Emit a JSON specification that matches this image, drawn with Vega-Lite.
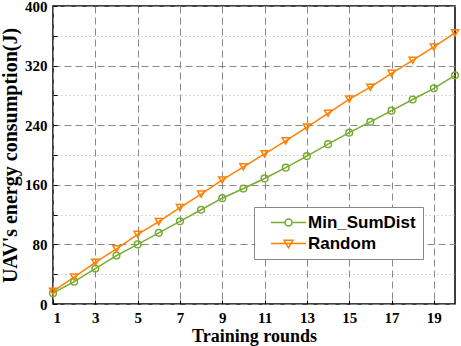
{
  "$schema": "https://vega.github.io/schema/vega-lite/v6.json",
  "width": 402,
  "height": 298,
  "autosize": {"type": "none"},
  "padding": {"left": 53, "top": 6, "right": 6, "bottom": 42},
  "background": "white",
  "config": {
    "view": {"stroke": "black", "strokeWidth": 1.5},
    "axis": {
      "labelFont": "Liberation Serif",
      "labelFontWeight": "bold",
      "labelFontSize": 15,
      "labelColor": "black",
      "titleFont": "Liberation Serif",
      "titleFontWeight": "bold",
      "titleColor": "black",
      "domain": false,
      "tickColor": "black",
      "tickSize": -4,
      "gridColor": "#888888",
      "gridOpacity": 1,
      "gridWidth": 1
    }
  },
  "data": {
    "values": [
      {"round": 1, "energy": 14.5, "method": "Min_SumDist"},
      {"round": 2, "energy": 30, "method": "Min_SumDist"},
      {"round": 3, "energy": 47.5, "method": "Min_SumDist"},
      {"round": 4, "energy": 65, "method": "Min_SumDist"},
      {"round": 5, "energy": 80, "method": "Min_SumDist"},
      {"round": 6, "energy": 95.5, "method": "Min_SumDist"},
      {"round": 7, "energy": 111, "method": "Min_SumDist"},
      {"round": 8, "energy": 126.5, "method": "Min_SumDist"},
      {"round": 9, "energy": 142, "method": "Min_SumDist"},
      {"round": 10, "energy": 155, "method": "Min_SumDist"},
      {"round": 11, "energy": 168.5, "method": "Min_SumDist"},
      {"round": 12, "energy": 183, "method": "Min_SumDist"},
      {"round": 13, "energy": 198.5, "method": "Min_SumDist"},
      {"round": 14, "energy": 214.5, "method": "Min_SumDist"},
      {"round": 15, "energy": 230, "method": "Min_SumDist"},
      {"round": 16, "energy": 244.5, "method": "Min_SumDist"},
      {"round": 17, "energy": 259.5, "method": "Min_SumDist"},
      {"round": 18, "energy": 274.5, "method": "Min_SumDist"},
      {"round": 19, "energy": 289.5, "method": "Min_SumDist"},
      {"round": 20, "energy": 307, "method": "Min_SumDist"},
      {"round": 1, "energy": 17, "method": "Random"},
      {"round": 2, "energy": 36, "method": "Random"},
      {"round": 3, "energy": 56, "method": "Random"},
      {"round": 4, "energy": 74, "method": "Random"},
      {"round": 5, "energy": 93.5, "method": "Random"},
      {"round": 6, "energy": 110.5, "method": "Random"},
      {"round": 7, "energy": 129.5, "method": "Random"},
      {"round": 8, "energy": 147.5, "method": "Random"},
      {"round": 9, "energy": 166.5, "method": "Random"},
      {"round": 10, "energy": 184, "method": "Random"},
      {"round": 11, "energy": 201.5, "method": "Random"},
      {"round": 12, "energy": 219, "method": "Random"},
      {"round": 13, "energy": 237.5, "method": "Random"},
      {"round": 14, "energy": 256, "method": "Random"},
      {"round": 15, "energy": 275, "method": "Random"},
      {"round": 16, "energy": 291, "method": "Random"},
      {"round": 17, "energy": 309.5, "method": "Random"},
      {"round": 18, "energy": 327, "method": "Random"},
      {"round": 19, "energy": 345, "method": "Random"},
      {"round": 20, "energy": 364, "method": "Random"}
    ]
  },
  "encoding": {
    "x": {
      "field": "round",
      "type": "quantitative",
      "scale": {"domain": [1, 20], "nice": false, "zero": false},
      "axis": {
        "title": "Training rounds",
        "titleFontSize": 18,
        "titlePadding": 2,
        "values": [1, 3, 5, 7, 9, 11, 13, 15, 17, 19],
        "labelPadding": 10,
        "gridDash": [7, 4]
      }
    },
    "y": {
      "field": "energy",
      "type": "quantitative",
      "scale": {"domain": [0, 400], "nice": false},
      "axis": {
        "title": "UAV's energy consumption(J)",
        "titleFontSize": 20,
        "titlePadding": 4,
        "values": [0, 40, 80, 120, 160, 200, 240, 280, 320, 360, 400],
        "labelExpr": "datum.value % 80 === 0 ? datum.label : ''",
        "labelPadding": 10,
        "gridDash": {"condition": {"test": "datum.value % 80 !== 0", "value": [1, 3]}, "value": [7, 4]},
        "gridColor": {"condition": {"test": "datum.value % 80 !== 0", "value": "#aaaaaa"}, "value": "#888888"}
      }
    },
    "color": {
      "field": "method",
      "type": "nominal",
      "scale": {"domain": ["Min_SumDist", "Random"], "range": ["#77AC30", "#FF8000"]},
      "legend": {
        "title": null,
        "orient": "none",
        "legendX": 201,
        "legendY": 201,
        "fillColor": "white",
        "strokeColor": "#888888",
        "padding": 7,
        "labelFont": "Liberation Sans",
        "labelFontWeight": "bold",
        "labelFontSize": 17,
        "labelColor": "black",
        "symbolOffset": 19,
        "labelOffset": 11,
        "rowPadding": 3,
        "symbolSize": 196,
        "symbolStrokeWidth": 1.5,
        "symbolFillColor": "transparent",
        "encode": {
          "symbols": {
            "update": {
              "shape": {"signal": "datum.value === 'Random' ? 'M-2.5,0L2.5,0M-0.64,-0.45L0.64,-0.45L0,0.6Z' : 'M-2.5,0L-0.5,0M0.5,0L2.5,0M0.5,0A0.5,0.5,0,1,1,-0.5,0A0.5,0.5,0,1,1,0.5,0'"},
              "size": {"value": 196},
              "fill": {"value": "transparent"}
            }
          }
        }
      }
    }
  },
  "layer": [
    {"mark": {"type": "line", "strokeWidth": 1.5}},
    {
      "transform": [{"filter": "datum.method === 'Min_SumDist'"}],
      "mark": {"type": "point", "shape": "circle", "filled": false, "strokeWidth": 1.5, "size": 45, "opacity": 1}
    },
    {
      "transform": [{"filter": "datum.method === 'Random'"}],
      "mark": {"type": "point", "shape": "triangle-down", "filled": false, "strokeWidth": 1.5, "size": 50, "opacity": 1}
    }
  ]
}
